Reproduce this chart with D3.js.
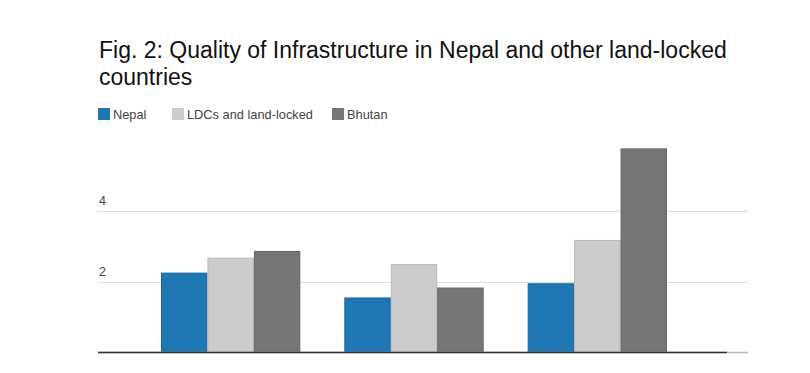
<!DOCTYPE html>
<html>
<head>
<meta charset="utf-8">
<script src="https://cdn.jsdelivr.net/npm/d3@7"></script>
<style>
  body { margin: 0; background: #fff; }
  text { font-family: "Liberation Sans", Arial, sans-serif; }
</style>
</head>
<body>
<svg id="chart"></svg>
<script>
const categories = ["Group 1", "Group 2", "Group 3"];
const seriesNames = ["Nepal", "LDCs and land-locked", "Bhutan"];
const nepal = [2.25, 1.55, 1.95];
const ldcs = [2.67, 2.49, 3.17];
const bhutan = [2.86, 1.83, 5.75];
const yTicks = [2, 4];

const seriesValues = [nepal, ldcs, bhutan];
const fills = ["#1f77b4", "#cccccc", "#767676"];
const strokes = ["#1a64a0", "#b8b8b8", "#666666"];

const width = 810;
const height = 373;

const svg = d3.select("#chart")
    .attr("width", width)
    .attr("height", height);

// title
const title = svg.append("text")
    .attr("x", 99)
    .attr("y", 58)
    .attr("font-size", 23)
    .attr("fill", "#111");
title.append("tspan").attr("x", 99).text("Fig. 2: Quality of Infrastructure in Nepal and other land-locked");
title.append("tspan").attr("x", 99).attr("dy", 27).text("countries");

// legend
const legendX = [98, 172, 332];
const legend = svg.append("g").selectAll("g")
    .data(seriesNames)
    .enter().append("g")
    .attr("transform", (d, i) => "translate(" + legendX[i] + ",108)");
legend.append("rect")
    .attr("width", 12)
    .attr("height", 12)
    .attr("fill", (d, i) => fills[i]);
legend.append("text")
    .attr("x", 15)
    .attr("y", 10.5)
    .attr("font-size", 12.8)
    .attr("fill", "#444")
    .text(d => d);

// scales
const y = d3.scaleLinear()
    .domain([0, 6])
    .range([352.5, 139.5]);

const x0 = d3.scaleBand()
    .domain(categories)
    .range([139, 689])
    .paddingInner(0.24)
    .paddingOuter(0.12);

const x1 = d3.scaleBand()
    .domain(seriesNames)
    .range([0, x0.bandwidth()]);

// gridlines + labels
const grid = svg.append("g");
grid.selectAll("line")
    .data(yTicks)
    .enter().append("line")
    .attr("x1", 98)
    .attr("x2", 748)
    .attr("y1", d => Math.round(y(d)) + 0.5)
    .attr("y2", d => Math.round(y(d)) + 0.5)
    .attr("stroke", "#dddddd");
grid.selectAll("text")
    .data(yTicks)
    .enter().append("text")
    .attr("x", 99)
    .attr("y", d => y(d) - 6)
    .attr("font-size", 12.5)
    .attr("fill", "#444")
    .text(d => d);

// bars
const groups = svg.append("g").selectAll("g")
    .data(categories)
    .enter().append("g")
    .attr("transform", d => "translate(" + x0(d) + ",0)");

groups.selectAll("rect")
    .data((c, ci) => seriesNames.map((s, si) => ({ s: s, si: si, v: seriesValues[si][ci] })))
    .enter().append("rect")
    .attr("x", d => x1(d.s) + 0.5)
    .attr("y", d => y(d.v) + 0.5)
    .attr("width", x1.bandwidth() - 1)
    .attr("height", d => y(0) - y(d.v) - 0.5)
    .attr("fill", d => fills[d.si])
    .attr("stroke", d => strokes[d.si])
    .attr("stroke-width", 1);

// baseline
svg.append("line")
    .attr("x1", 98).attr("x2", 748)
    .attr("y1", 352.5).attr("y2", 352.5)
    .attr("stroke", "#bbbbbb")
    .attr("stroke-width", 1.5);
svg.append("line")
    .attr("x1", 98).attr("x2", 727)
    .attr("y1", 352.5).attr("y2", 352.5)
    .attr("stroke", "#333333")
    .attr("stroke-width", 1.5);
</script>
</body>
</html>
